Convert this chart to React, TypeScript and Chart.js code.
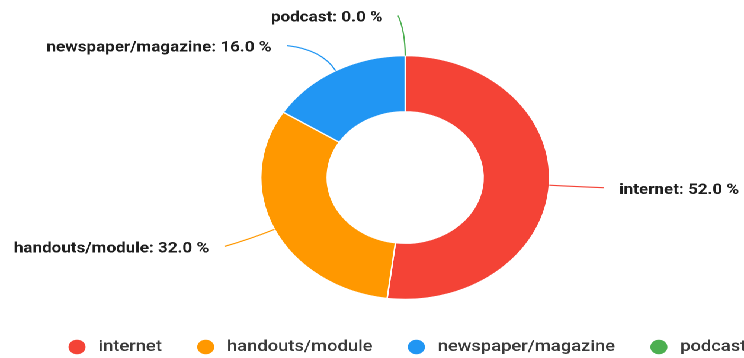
import React, { useEffect, useRef } from "react";
import { Chart, registerables } from "chart.js";

Chart.register(...registerables);

const categories = ["internet", "handouts/module", "newspaper/magazine", "podcast"];
const shares = [52, 32, 16, 0];
const sliceColors = ["#F44336", "#FF9800", "#2196F3", "#4CAF50"];

const LOGICAL_W = 628;
const H = 358;
const STRETCH = 744 / LOGICAL_W;

const outsideLabels = {
  id: "outsideLabels",
  afterDatasetsDraw(chart: any) {
    const meta = chart.getDatasetMeta(0);
    const ds = chart.data.datasets[0];
    const values: number[] = ds.data;
    const total = values.reduce((a, b) => a + b, 0);
    const ctx = chart.ctx;
    const items = meta.data.map((arc: any, i: number) => {
      const p = arc.getProps(["x", "y", "startAngle", "endAngle", "outerRadius"], true);
      const a = (p.startAngle + p.endAngle) / 2;
      const side = Math.cos(a) > 0.01 ? 1 : -1;
      const rEnd = p.outerRadius + 40;
      return { i, a, side, p, rEnd, y: p.y + Math.sin(a) * rEnd };
    });
    for (const s of [-1, 1]) {
      const group = items.filter((it: any) => it.side === s).sort((u: any, v: any) => u.y - v.y);
      for (let k = 1; k < group.length; k++) {
        if (group[k].y < group[k - 1].y + 30) group[k].y = group[k - 1].y + 30;
      }
    }
    ctx.save();
    for (const it of items) {
      const { p, a, side, rEnd } = it;
      const R = p.outerRadius;
      const ax = p.x + Math.cos(a) * R;
      const ay = p.y + Math.sin(a) * R;
      const cxp = p.x + Math.cos(a) * (R + 24);
      const cyp = p.y + Math.sin(a) * (R + 24);
      const dy = it.y - p.y;
      const ex = p.x + side * (Math.sqrt(Math.max(0, rEnd * rEnd - dy * dy)) + 6);
      const ey = it.y;
      ctx.beginPath();
      ctx.moveTo(ax, ay);
      ctx.quadraticCurveTo(cxp, cyp, ex, ey);
      ctx.strokeStyle = ds.backgroundColor[it.i];
      ctx.lineWidth = 1.1;
      ctx.stroke();
      const pct = total ? (values[it.i] / total) * 100 : 0;
      const text = `${chart.data.labels[it.i]}: ${pct.toFixed(1)} %`;
      ctx.font = "bold 14.4px Roboto";
      ctx.fillStyle = "#1e1e1e";
      ctx.textBaseline = "middle";
      ctx.textAlign = side > 0 ? "left" : "right";
      ctx.fillText(text, ex + side * 13, ey + 2.5);
    }
    ctx.restore();
  },
};

const bottomLegend = {
  id: "bottomLegend",
  afterDraw(chart: any) {
    const ctx = chart.ctx;
    const ds = chart.data.datasets[0];
    const labels: string[] = chart.data.labels;
    const area = chart.chartArea;
    const centerX = (area.left + area.right) / 2 + 2;
    const y = 347;
    const gap = 30;
    const rad = 7.2;
    const textOffset = 25;
    ctx.save();
    ctx.font = "500 15.5px Roboto";
    const widths = labels.map((l) => textOffset + ctx.measureText(l).width);
    const total = widths.reduce((a, b) => a + b, 0) + gap * (labels.length - 1);
    let x = centerX - total / 2;
    labels.forEach((l, i) => {
      ctx.beginPath();
      ctx.arc(x + 7, y, rad, 0, Math.PI * 2);
      ctx.fillStyle = ds.backgroundColor[i];
      ctx.fill();
      ctx.fillStyle = "#3a3a3a";
      ctx.textBaseline = "middle";
      ctx.textAlign = "left";
      ctx.fillText(l, x + textOffset, y);
      x += widths[i] + gap;
    });
    ctx.restore();
  },
};

export default function App() {
  const ref = useRef<HTMLCanvasElement | null>(null);
  useEffect(() => {
    if (!ref.current) return;
    const chart = new Chart(ref.current, {
      type: "doughnut",
      data: {
        labels: categories,
        datasets: [
          {
            data: shares,
            backgroundColor: sliceColors,
            borderColor: "#ffffff",
            borderWidth: 1.2,
          },
        ],
      },
      options: {
        responsive: false,
        animation: false,
        devicePixelRatio: 2,
        cutout: "54%",
        layout: { padding: { top: 55, bottom: 58, left: 200, right: 144 } },
        plugins: {
          legend: { display: false },
          tooltip: { enabled: false },
        },
      },
      plugins: [outsideLabels, bottomLegend],
    });
    return () => chart.destroy();
  }, []);
  return (
    <div
      style={{
        position: "fixed",
        left: 0,
        top: 0,
        width: LOGICAL_W,
        height: H,
        background: "#ffffff",
        transform: `scaleX(${STRETCH})`,
        transformOrigin: "0 0",
      }}
    >
      <canvas ref={ref} width={LOGICAL_W} height={H} style={{ width: LOGICAL_W, height: H, display: "block" }} />
    </div>
  );
}
